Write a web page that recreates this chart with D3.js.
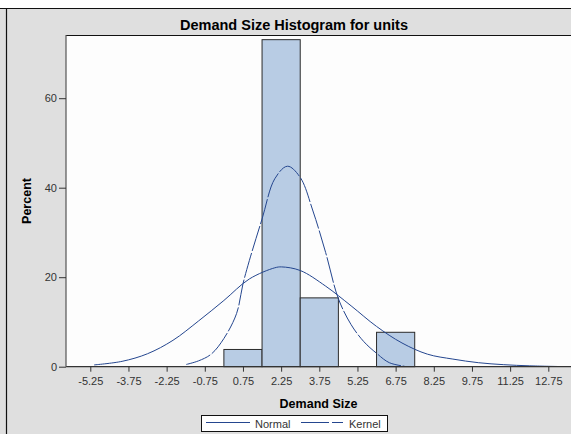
<!DOCTYPE html>
<html>
<head>
<meta charset="utf-8">
<script src="https://cdn.jsdelivr.net/npm/d3@7"></script>
<style>
  html, body { margin: 0; padding: 0; background: #ffffff; }
  svg { display: block; }
  text { font-family: "Liberation Sans", Arial, Helvetica, sans-serif; }
</style>
</head>
<body>
<svg id="chart" width="571" height="434"></svg>
<script>
// Histogram bins (lower edge, upper edge) and percent of observations
const binStart = [0, 1.5, 3.0, 6.0];
const binEnd = [1.5, 3.0, 4.5, 7.5];
const binPercent = [3.85, 73.08, 15.38, 7.69];

// Fitted normal curve (Demand Size, Percent)
const normalX = [-5.1, -4, -3, -2, -1, 0, 1, 2, 2.27, 3, 4, 5, 6, 7, 8, 9, 10, 11, 12, 13.1];
const normalY = [0.4, 1.2, 2.9, 5.9, 10.2, 14.8, 19.6, 22.1, 22.3, 21.5, 18.0, 13.6, 9.0, 5.3, 2.8, 1.7, 0.9, 0.45, 0.2, 0.05];

// Kernel density estimate (Demand Size, Percent)
const kernelX = [-1.48, -1.0, -0.5, 0.0, 0.5, 0.75, 1.0, 1.5, 2.0, 2.5, 3.0, 3.5, 4.0, 4.5, 5.0, 5.5, 6.0, 6.5, 7.1];
const kernelY = [0.5, 1.3, 2.8, 6.3, 11.9, 18.5, 23.7, 33.0, 42.0, 44.8, 42.3, 34.8, 25.5, 15.2, 9.4, 5.6, 3.0, 0.9, 0.1];

// Axis ticks
const xTicks = [-5.25, -3.75, -2.25, -0.75, 0.75, 2.25, 3.75, 5.25, 6.75, 8.25, 9.75, 11.25, 12.75];
const yTicks = [0, 20, 40, 60];

const svg = d3.select("#chart");
const W = 571, H = 434;
const plot = { left: 66, top: 35, right: 571, bottom: 367 };
const curveColor = "#24468f";

const x = d3.scaleLinear().domain([-5.25, 12.75]).range([90.3, 548.3]);
const y = d3.scaleLinear().domain([0, 60]).range([366.7, 98.2]);

// Outer gray frame
svg.append("rect").attr("x", 0).attr("y", 8).attr("width", W).attr("height", H - 8).attr("fill", "#dfdfdf");
svg.append("line").attr("x1", 0).attr("x2", W).attr("y1", 8.5).attr("y2", 8.5).attr("stroke", "#111").attr("stroke-width", 1.2);
svg.append("line").attr("x1", 6.5).attr("x2", 6.5).attr("y1", 8).attr("y2", H).attr("stroke", "#111").attr("stroke-width", 1.2);

// Plot area
svg.append("rect").attr("x", plot.left).attr("y", plot.top)
  .attr("width", plot.right - plot.left).attr("height", plot.bottom - plot.top).attr("fill", "#fdfdfd");
svg.append("line").attr("x1", plot.left).attr("x2", plot.right).attr("y1", plot.top + 0.5).attr("y2", plot.top + 0.5)
  .attr("stroke", "#111").attr("stroke-width", 1.2);

// Title
svg.append("text").attr("x", 294).attr("y", 30).attr("text-anchor", "middle")
  .attr("font-size", 14.5).attr("font-weight", "bold").attr("fill", "#000")
  .text("Demand Size Histogram for units");

// Bars
svg.append("g").selectAll("rect").data(binPercent).join("rect")
  .attr("x", (d, i) => x(binStart[i]))
  .attr("y", d => y(d))
  .attr("width", (d, i) => x(binEnd[i]) - x(binStart[i]))
  .attr("height", d => y(0) - y(d))
  .attr("fill", "#b8cce4")
  .attr("stroke", "#2b2b2b")
  .attr("stroke-width", 1);

// Curves
const line = d3.line().x(d => x(d[0])).y(d => y(d[1])).curve(d3.curveCatmullRom.alpha(0.5));
svg.append("path").datum(normalX.map((v, i) => [v, normalY[i]]))
  .attr("d", line).attr("fill", "none").attr("stroke", curveColor).attr("stroke-width", 1);
svg.append("path").datum(kernelX.map((v, i) => [v, kernelY[i]]))
  .attr("d", line).attr("fill", "none").attr("stroke", curveColor).attr("stroke-width", 1)
  .attr("stroke-dasharray", "26,2");

// Tick labels use a plain hyphen for negatives
const fmt = v => v.toFixed(2);

// X axis
const xAxis = svg.append("g").attr("transform", `translate(0,${y(0)})`)
  .call(d3.axisBottom(x).tickValues(xTicks).tickSize(5).tickPadding(6).tickFormat(fmt));
xAxis.select(".domain").attr("d", `M${plot.left},0H${plot.right}`).attr("stroke", "#333").attr("stroke-width", 1.2);
xAxis.selectAll(".tick line").attr("stroke", "#333");
xAxis.selectAll(".tick text").attr("font-size", 11).attr("fill", "#333").attr("font-family", "Liberation Sans, Arial, sans-serif");

// Y axis
const yAxis = svg.append("g").attr("transform", `translate(${plot.left},0)`)
  .call(d3.axisLeft(y).tickValues(yTicks).tickSize(7).tickPadding(2));
yAxis.select(".domain").attr("d", `M0,${plot.top}V${y(0)}`).attr("stroke", "#555").attr("stroke-width", 1.2);
yAxis.selectAll(".tick line").attr("stroke", "#333");
yAxis.selectAll(".tick text").attr("font-size", 11).attr("fill", "#333").attr("font-family", "Liberation Sans, Arial, sans-serif");

// Axis titles
svg.append("text").attr("x", 318.5).attr("y", 408).attr("text-anchor", "middle")
  .attr("font-size", 12.5).attr("font-weight", "bold").attr("fill", "#000").text("Demand Size");
svg.append("text").attr("transform", "translate(31,201) rotate(-90)").attr("text-anchor", "middle")
  .attr("font-size", 12.5).attr("font-weight", "bold").attr("fill", "#000").text("Percent");

// Legend
const lg = svg.append("g");
lg.append("rect").attr("x", 201.5).attr("y", 415.5).attr("width", 186).attr("height", 16)
  .attr("fill", "#fff").attr("stroke", "#111").attr("stroke-width", 1);
lg.append("line").attr("x1", 206).attr("x2", 250).attr("y1", 422.5).attr("y2", 422.5).attr("stroke", curveColor);
lg.append("text").attr("x", 255).attr("y", 427.5).attr("font-size", 11).attr("fill", "#333").text("Normal");
lg.append("line").attr("x1", 301).attr("x2", 343).attr("y1", 422.5).attr("y2", 422.5).attr("stroke", curveColor)
  .attr("stroke-dasharray", "28,3");
lg.append("text").attr("x", 349).attr("y", 427.5).attr("font-size", 11).attr("fill", "#333").text("Kernel");
</script>
</body>
</html>
